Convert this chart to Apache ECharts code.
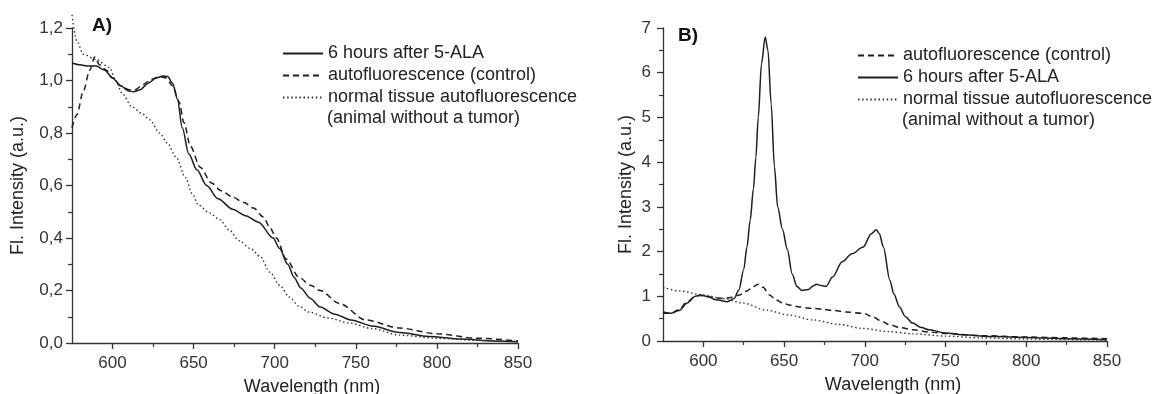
<!DOCTYPE html>
<html>
<head>
<meta charset="utf-8">
<script src="https://cdn.jsdelivr.net/npm/echarts@6/dist/echarts.min.js"></script>
<style>
html,body{margin:0;padding:0;background:#fff;}
#chart{width:1163px;height:394px;}
</style>
</head>
<body>
<div id="chart"></div>
<script>
// ---------- Data ----------
// Panel A
const aSolidWl  = [575,580,585,590,595,600,605,610,613,617,622,627,631,634,637,640,643,647,652,658,665,674,682,690,699,703,708,712,716,722,728,737,747,760,777,795,815,835,850];
const aSolidVal = [1.067,1.06,1.055,1.055,1.04,1.01,0.98,0.96,0.957,0.965,0.99,1.01,1.017,1.015,0.99,0.93,0.82,0.72,0.66,0.60,0.55,0.51,0.485,0.46,0.40,0.36,0.30,0.25,0.21,0.17,0.137,0.11,0.088,0.065,0.04,0.025,0.015,0.008,0.005];

const aDashWl  = [575,578,582,586,589,592,596,600,605,610,614,619,624,629,633,637,641,644,648,654,661,667,674,681,687,693,697,701,707,715,722,728,740,756,777,800,825,850];
const aDashVal = [0.82,0.87,0.96,1.04,1.09,1.06,1.04,1.01,0.98,0.965,0.965,0.985,1.005,1.015,1.01,0.98,0.92,0.84,0.75,0.67,0.61,0.58,0.556,0.535,0.514,0.48,0.44,0.40,0.32,0.25,0.22,0.20,0.15,0.088,0.057,0.035,0.018,0.008];

const aDotWl  = [575,578,582,590,598,602,606,612,618,623,629,634,639,645,649,653,660,666,672,678,685,691,697,703,709,715,721,733,746,760,777,800,825,850];
const aDotVal = [1.25,1.15,1.10,1.08,1.05,1.0,0.95,0.90,0.875,0.85,0.80,0.76,0.71,0.63,0.57,0.525,0.495,0.47,0.43,0.39,0.36,0.33,0.27,0.22,0.175,0.14,0.118,0.095,0.076,0.055,0.03,0.018,0.01,0.005];

// Panel B
const bSolidWl  = [575,580,585,590,595,598,603,608,615,619,622,625,627,629,631,632.5,634,636,638.3,640,642,644,646,649,652,655,658,661,665,668,670,673,676,680,686,692,699,704,707,709,711.5,715.5,718,721.5,725,729.5,735,740,750,760,780,800,825,850];
const bSolidVal = [0.65,0.62,0.68,0.85,1.0,1.03,0.99,0.92,0.88,0.95,1.14,1.6,2.1,2.7,3.4,4.1,5.0,6.2,6.8,6.5,5.3,3.9,3.0,2.5,2.05,1.5,1.22,1.13,1.15,1.23,1.27,1.24,1.22,1.43,1.77,1.95,2.1,2.4,2.49,2.4,2.1,1.36,1.05,0.76,0.55,0.4,0.3,0.25,0.18,0.14,0.1,0.08,0.05,0.03];

const bDashWl  = [575,580,585,590,595,598,603,608,613,618,622.5,627,631,634,637,641,645,649,654,659.5,667,674,681,688.5,699,705,710,715.5,722,730,740,750.5,771,800,825,850];
const bDashVal = [0.62,0.62,0.7,0.88,1.0,1.02,0.99,0.96,0.95,0.98,1.03,1.12,1.22,1.27,1.2,1.03,0.92,0.85,0.8,0.76,0.73,0.71,0.68,0.65,0.62,0.54,0.45,0.36,0.3,0.25,0.2,0.17,0.12,0.09,0.07,0.05];

const bDotWl  = [575,585,600,612,624.5,639,653,668,684,699,715,730,750,771,800,825,850];
const bDotVal = [1.2,1.12,1.03,0.95,0.85,0.69,0.58,0.47,0.37,0.28,0.21,0.16,0.11,0.07,0.045,0.03,0.02];

// Axis ticks
const xLabels   = [600,650,700,750,800,850];
const xMinor    = [625,675,725,775,825];
const names = {
  solid: '6 hours after 5-ALA',
  dash:  'autofluorescence (control)',
  dot:   'normal tissue autofluorescence'
};
const dotSecondLine = '(animal without a tumor)';

// ---------- Chart ----------
const pairs = (xs, ys) => xs.map((x, i) => [x, ys[i]]);
const ink = '#1e1e1e';
const FONT = 'Liberation Sans, Arial, sans-serif';

const chart = echarts.init(document.getElementById('chart'), null, {renderer: 'canvas'});

function xAxisMain(gi, shift) {
  return {
    type: 'value', gridIndex: gi, position: 'bottom', min: 575, max: 850, interval: 25,
    name: 'Wavelength (nm)', nameLocation: 'middle', nameGap: 35,
    nameTextStyle: {fontFamily: FONT, fontSize: 18, color: '#222', padding: [0, 0, 0, shift]},
    axisLine: {show: true, lineStyle: {color: '#333', width: 1.3}},
    axisTick: {show: true, length: 6, customValues: xLabels, lineStyle: {color: '#333', width: 1.3}},
    axisLabel: {customValues: xLabels, fontFamily: FONT, fontSize: 17, color: '#333', margin: 12},
    splitLine: {show: false}
  };
}
function xAxisMinor(gi) {
  return {
    type: 'value', gridIndex: gi, position: 'bottom', offset: 0, min: 575, max: 850, interval: 25,
    axisLine: {show: false},
    axisTick: {show: true, length: 4, customValues: xMinor, lineStyle: {color: '#333', width: 1.2}},
    axisLabel: {show: false},
    splitLine: {show: false}
  };
}

const lineBase = {
  type: 'line', symbol: 'none', showSymbol: false, smooth: 0.3, smoothMonotone: 'x',
  animation: false, clip: false
};
const solidStyle = {color: ink, width: 1.5, type: 'solid'};
const dashStyle  = {color: ink, width: 1.5, type: [6, 4]};
const dotStyle   = {color: '#333', width: 1.4, type: [1.5, 2.6]};

const legendBase = {
  orient: 'vertical', padding: 0, itemWidth: 40, itemHeight: 14, itemGap: 3,
  textStyle: {fontFamily: FONT, fontSize: 18, color: '#222', lineHeight: 19},
  itemStyle: {opacity: 0},
  selectedMode: false
};

chart.setOption({
  backgroundColor: '#fff',
  animation: false,
  textStyle: {fontFamily: FONT},
  grid: [
    {left: 72, top: 28, width: 446, height: 315, outerBoundsMode: 'none', containLabel: false},
    {left: 663, top: 28, width: 444, height: 313, outerBoundsMode: 'none', containLabel: false}
  ],
  xAxis: [xAxisMain(0, 34), xAxisMain(1, 16), xAxisMinor(0), xAxisMinor(1)],
  yAxis: [
    {
      type: 'value', gridIndex: 0, min: 0, max: 1.2, interval: 0.2,
      name: 'Fl. Intensity (a.u.)', nameLocation: 'middle', nameGap: 45,
      nameTextStyle: {fontFamily: FONT, fontSize: 18, color: '#222'},
      axisLine: {show: true, lineStyle: {color: '#333', width: 1.3}},
      axisTick: {show: true, length: 6, lineStyle: {color: '#333', width: 1.3}},
      minorTick: {show: true, splitNumber: 2, length: 4, lineStyle: {color: '#333', width: 1.2}},
      axisLabel: {fontFamily: FONT, fontSize: 17, color: '#333', margin: 9,
        formatter: v => v.toFixed(1).replace('.', ',')},
      splitLine: {show: false}
    },
    {
      type: 'value', gridIndex: 1, min: 0, max: 7, interval: 1,
      name: 'Fl. Intensity (a.u.)', nameLocation: 'middle', nameGap: 28,
      nameTextStyle: {fontFamily: FONT, fontSize: 18, color: '#222'},
      axisLine: {show: true, lineStyle: {color: '#333', width: 1.3}},
      axisTick: {show: true, length: 6, lineStyle: {color: '#333', width: 1.3}},
      minorTick: {show: true, splitNumber: 2, length: 4, lineStyle: {color: '#333', width: 1.2}},
      axisLabel: {fontFamily: FONT, fontSize: 17, color: '#333', margin: 12},
      splitLine: {show: false}
    }
  ],
  legend: [
    Object.assign({}, legendBase, {left: 282, top: 44, data: [names.solid, names.dash, names.dot]}),
    Object.assign({}, legendBase, {left: 857, top: 46, data: [names.dash, names.solid, names.dot]})
  ],
  graphic: [
    {type: 'text', left: 92, top: 16, style: {text: 'A)', font: 'bold 19px ' + FONT, fill: '#111'}},
    {type: 'text', left: 678, top: 26, style: {text: 'B)', font: 'bold 19px ' + FONT, fill: '#111'}},
    {type: 'text', left: 327, top: 109, style: {text: dotSecondLine, font: '18px ' + FONT, fill: '#222'}},
    {type: 'text', left: 902, top: 111, style: {text: dotSecondLine, font: '18px ' + FONT, fill: '#222'}}
  ],
  series: [
    Object.assign({}, lineBase, {name: names.solid, xAxisIndex: 0, yAxisIndex: 0, lineStyle: solidStyle, itemStyle: {color: ink}, data: pairs(aSolidWl, aSolidVal)}),
    Object.assign({}, lineBase, {name: names.dash,  xAxisIndex: 0, yAxisIndex: 0, lineStyle: dashStyle,  itemStyle: {color: ink}, data: pairs(aDashWl, aDashVal)}),
    Object.assign({}, lineBase, {name: names.dot,   xAxisIndex: 0, yAxisIndex: 0, lineStyle: dotStyle,   itemStyle: {color: '#333'}, data: pairs(aDotWl, aDotVal)}),
    Object.assign({}, lineBase, {name: names.dash,  xAxisIndex: 1, yAxisIndex: 1, lineStyle: dashStyle,  itemStyle: {color: ink}, data: pairs(bDashWl, bDashVal)}),
    Object.assign({}, lineBase, {name: names.solid, xAxisIndex: 1, yAxisIndex: 1, lineStyle: solidStyle, itemStyle: {color: ink}, data: pairs(bSolidWl, bSolidVal)}),
    Object.assign({}, lineBase, {name: names.dot,   xAxisIndex: 1, yAxisIndex: 1, lineStyle: dotStyle,   itemStyle: {color: '#333'}, data: pairs(bDotWl, bDotVal)})
  ]
});
</script>
</body>
</html>
